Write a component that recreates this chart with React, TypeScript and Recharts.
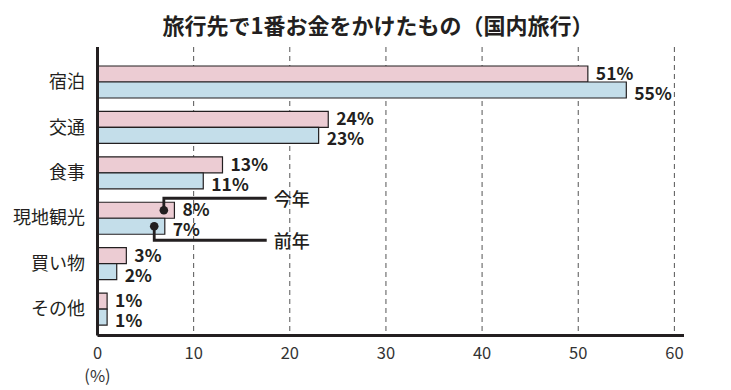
import { BarChart, Bar, XAxis, YAxis, CartesianGrid, LabelList } from 'recharts'

const categories = ['宿泊', '交通', '食事', '現地観光', '買い物', 'その他']
const thisYear = [51, 24, 13, 8, 3, 1]
const lastYear = [55, 23, 11, 7, 2, 1]
const xTicks = [0, 10, 20, 30, 40, 50, 60]
const seriesNames = ['今年', '前年']
const title = '旅行先で1番お金をかけたもの（国内旅行）'
const unitLabel = '(%)'
// the category that carries the 今年 / 前年 callouts
const calloutIndex = 3

const data = categories.map((name, i) => ({
  name,
  thisYear: thisYear[i],
  lastYear: lastYear[i]
}))

const FONT = '"Noto Sans CJK JP", "Noto Sans", sans-serif'
const INK = '#231f20'
const PINK = '#ecccd3'
const BLUE = '#c4deea'

// value label + optional callout drawn from the bar's own geometry
function makeLabel(series: 0 | 1) {
  return (props: any) => {
    const vb = props.viewBox ?? {}
    const x = Number(props.x ?? vb.x)
    const y = Number(props.y ?? vb.y)
    const w = Number(props.width ?? vb.width)
    const h = Number(props.height ?? vb.height)
    const value = Number(props.value)
    const index = props.index
    const endX = x + w
    const midY = y + h / 2
    const pxPerUnit = value ? w / value : 0

    let callout = null
    if (index === calloutIndex && pxPerUnit) {
      const dotX = endX - 1.1 * pxPerUnit
      const turnY = series === 0 ? y - 4 : y + h + 6
      const lineEnd = x + 17.6 * pxPerUnit
      callout = (
        <g>
          <polyline
            points={`${dotX},${midY} ${dotX},${turnY} ${lineEnd},${turnY}`}
            fill="none"
            stroke={INK}
            strokeWidth={2.8}
          />
          <circle cx={dotX} cy={midY} r={4.3} fill={INK} />
          <text
            x={lineEnd + 7}
            y={turnY}
            dominantBaseline="central"
            fontFamily={FONT}
            fontSize={18}
            fontWeight={500}
            fill={INK}
          >
            {seriesNames[series]}
          </text>
        </g>
      )
    }

    return (
      <g>
        <text
          x={endX + 8}
          y={midY + (series === 1 ? 2.5 : -1.5)}
          dominantBaseline="central"
          fontFamily={FONT}
          fontSize={17.5}
          fontWeight={700}
          fill={INK}
        >
          {`${value}%`}
        </text>
        {callout}
      </g>
    )
  }
}

export default function App() {
  return (
    <div style={{ position: 'absolute', left: 0, top: 0, background: '#fff' }}>
      <BarChart
        width={731}
        height={390}
        data={data}
        layout="vertical"
        barGap={0}
        margin={{ top: 47, right: 47, left: 0, bottom: 0 }}
      >
        <text
          x={378}
          y={24}
          textAnchor="middle"
          dominantBaseline="central"
          fontFamily={FONT}
          fontSize={22}
          fontWeight={700}
          fill={INK}
        >
          {title}
        </text>
        <CartesianGrid
          horizontal={false}
          verticalValues={xTicks}
          stroke="#555"
          strokeDasharray="5 4"
          strokeWidth={1}
        />
        <XAxis
          type="number"
          domain={[0, 61]}
          ticks={xTicks}
          tickLine={false}
          tickSize={0}
          tickMargin={11.5}
          height={54.5}
          axisLine={{ stroke: INK, strokeWidth: 3 }}
          tick={{ fontFamily: FONT, fontSize: 16.5, fill: '#333' }}
          label={{
            content: (p: any) => {
              const vb = p.viewBox ?? {}
              return (
                <text
                  x={vb.x}
                  y={vb.y + 39}
                  textAnchor="middle"
                  dominantBaseline="central"
                  fontFamily={FONT}
                  fontSize={16.5}
                  fill="#333"
                >
                  {unitLabel}
                </text>
              )
            }
          }}
        />
        <YAxis
          type="category"
          dataKey="name"
          width={97.5}
          tickLine={false}
          tickSize={0}
          tickMargin={12.5}
          padding={{ top: 12, bottom: 4 }}
          axisLine={{ stroke: INK, strokeWidth: 3 }}
          tick={{ fontFamily: FONT, fontSize: 18, fill: INK }}
        />
        <Bar
          dataKey="thisYear"
          fill={PINK}
          stroke={INK}
          strokeWidth={1.2}
          barSize={16}
          isAnimationActive={false}
        >
          <LabelList dataKey="thisYear" content={makeLabel(0)} />
        </Bar>
        <Bar
          dataKey="lastYear"
          fill={BLUE}
          stroke={INK}
          strokeWidth={1.2}
          barSize={16}
          isAnimationActive={false}
        >
          <LabelList dataKey="lastYear" content={makeLabel(1)} />
        </Bar>
      </BarChart>
    </div>
  )
}
